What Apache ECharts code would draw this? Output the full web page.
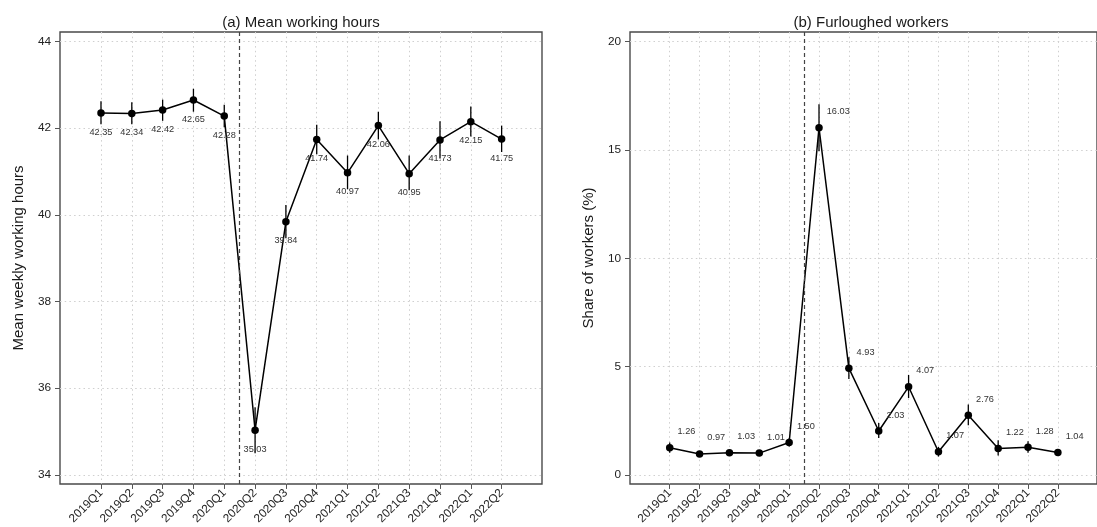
<!DOCTYPE html>
<html>
<head>
<meta charset="utf-8">
<script src="https://cdn.jsdelivr.net/npm/echarts@6/dist/echarts.min.js"></script>
<style>
  html, body { margin: 0; padding: 0; background: #ffffff; }
  #chart { width: 1097px; height: 527px; }
</style>
</head>
<body>
<div id="chart"></div>
<script>
// Quarters on the horizontal axis
const quarters = ['2019Q1', '2019Q2', '2019Q3', '2019Q4', '2020Q1', '2020Q2', '2020Q3',
                  '2020Q4', '2021Q1', '2021Q2', '2021Q3', '2021Q4', '2022Q1', '2022Q2'];

// (a) Mean weekly working hours with confidence bounds
const hoursMean = [42.35, 42.34, 42.42, 42.65, 42.28, 35.03, 39.84, 41.74, 40.97, 42.06, 40.95, 41.73, 42.15, 41.75];
const hoursLow  = [42.09, 42.09, 42.17, 42.38, 42.02, 34.50, 39.46, 41.40, 40.59, 41.74, 40.57, 41.30, 41.81, 41.45];
const hoursHigh = [42.62, 42.60, 42.66, 42.91, 42.54, 35.56, 40.23, 42.08, 41.37, 42.38, 41.37, 42.16, 42.50, 42.06];
const hoursTicks = [34, 36, 38, 40, 42, 44];

// (b) Share of furloughed workers (%) with confidence bounds
const furloughShare = [1.26, 0.97, 1.03, 1.01, 1.50, 16.03, 4.93, 2.03, 4.07, 1.07, 2.76, 1.22, 1.28, 1.04];
const furloughLow   = [1.03, 0.85, 0.91, 0.89, 1.31, 14.95, 4.43, 1.71, 3.55, 0.85, 2.30, 0.90, 1.02, 0.88];
const furloughHigh  = [1.50, 1.09, 1.15, 1.13, 1.69, 17.11, 5.43, 2.40, 4.62, 1.29, 3.25, 1.60, 1.56, 1.20];
const furloughTicks = [0, 5, 10, 15, 20];

// Start of the pandemic: halfway between 2020Q1 and 2020Q2
const pandemicBreak = 4.5;

const FONT = '"Liberation Sans", Arial, Helvetica, sans-serif';
const quarterIndex = quarters.map((q, i) => i);

function xAxisFor(gridIndex) {
  return {
    type: 'value', gridIndex: gridIndex, min: -1.33, max: 14.31,
    axisLine: { show: false, onZero: false },
    axisTick: { show: true, customValues: quarterIndex, length: 5, lineStyle: { color: '#555', width: 1 } },
    axisLabel: {
      customValues: quarterIndex, rotate: 45, margin: 7,
      formatter: v => quarters[Math.round(v)],
      fontFamily: FONT, fontSize: 11.8, color: '#222'
    },
    splitLine: { show: true, lineStyle: { color: '#cfcfcf', width: 1, type: [1.5, 3.2] } }
  };
}

function yAxisFor(gridIndex, min, max, ticks, name) {
  return {
    type: 'value', gridIndex: gridIndex, min: min, max: max,
    name: name, nameLocation: 'middle', nameGap: 34, nameMoveOverlap: false,
    nameTextStyle: { fontFamily: FONT, fontSize: 15, color: '#1a1a1a' },
    axisLine: { show: false, onZero: false },
    axisTick: { show: true, customValues: ticks, length: 5, lineStyle: { color: '#555', width: 1 } },
    axisLabel: { customValues: ticks, margin: 9, fontFamily: FONT, fontSize: 11.8, color: '#222' },
    splitLine: { show: true, lineStyle: { color: '#cfcfcf', width: 1, type: [1.5, 3.2] } }
  };
}

function errorBars(gridIndex, low, high) {
  return {
    type: 'custom', xAxisIndex: gridIndex, yAxisIndex: gridIndex, silent: true, z: 3,
    data: quarters.map((q, i) => [i, low[i], high[i]]),
    encode: { x: 0, y: [1, 2] },
    renderItem: function (params, api) {
      const a = api.coord([api.value(0), api.value(1)]);
      const b = api.coord([api.value(0), api.value(2)]);
      return {
        type: 'line',
        shape: { x1: a[0], y1: a[1], x2: b[0], y2: b[1] },
        style: { stroke: '#000', lineWidth: 1.3 }
      };
    }
  };
}

function pointLine(gridIndex, values, label) {
  return {
    type: 'line', xAxisIndex: gridIndex, yAxisIndex: gridIndex, z: 4,
    data: quarters.map((q, i) => [i, values[i]]),
    symbol: 'circle', symbolSize: 7.5, showAllSymbol: true,
    lineStyle: { color: '#000', width: 1.5 },
    itemStyle: { color: '#000' },
    label: Object.assign({
      show: true, fontFamily: FONT, fontSize: 9.2, color: '#333',
      formatter: p => p.value[1].toFixed(2)
    }, label),
    markLine: {
      silent: true, symbol: 'none', animation: false,
      label: { show: false },
      lineStyle: { color: '#444', width: 1.2, type: [4, 3] },
      data: [{ xAxis: pandemicBreak }]
    },
    animation: false
  };
}

const chart = echarts.init(document.getElementById('chart'), null, { renderer: 'canvas' });
chart.setOption({
  backgroundColor: '#ffffff',
  animation: false,
  title: [
    { text: '(a) Mean working hours', left: 296, top: 10, textAlign: 'center',
      textStyle: { fontFamily: FONT, fontSize: 15, fontWeight: 'normal', color: '#1a1a1a' } },
    { text: '(b) Furloughed workers', left: 866, top: 10, textAlign: 'center',
      textStyle: { fontFamily: FONT, fontSize: 15, fontWeight: 'normal', color: '#1a1a1a' } }
  ],
  grid: [
    { left: 60, top: 32, width: 482, height: 453, show: true, borderColor: '#4a4a4a', borderWidth: 1.4, backgroundColor: 'transparent' },
    { left: 630, top: 32, width: 481, height: 453, show: true, borderColor: '#4a4a4a', borderWidth: 1.4, backgroundColor: 'transparent' }
  ],
  xAxis: [xAxisFor(0), xAxisFor(1)],
  yAxis: [
    yAxisFor(0, 33.79, 44.22, hoursTicks, 'Mean weekly working hours'),
    yAxisFor(1, -0.415, 20.45, furloughTicks, 'Share of workers (%)')
  ],
  series: [
    errorBars(0, hoursLow, hoursHigh),
    pointLine(0, hoursMean, { position: 'inside', offset: [0, 19] }),
    errorBars(1, furloughLow, furloughHigh),
    pointLine(1, furloughShare, { position: 'right', distance: 4, offset: [0, -16], align: 'left' })
  ]
});
</script>
</body>
</html>
